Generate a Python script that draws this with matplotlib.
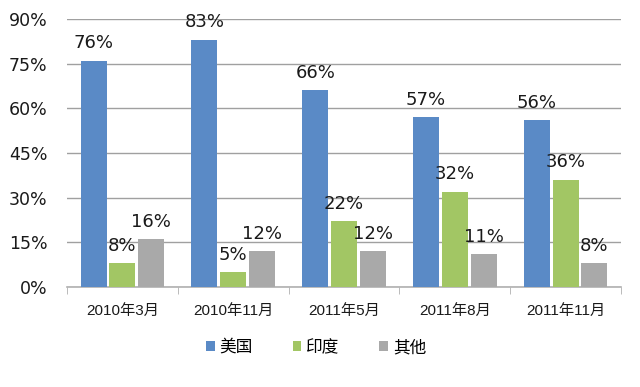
import numpy as np
import matplotlib
matplotlib.use("Agg")
import matplotlib.pyplot as plt
import matplotlib.ticker as mticker

plt.rcParams["font.family"] = ["DejaVu Sans", "Noto Sans CJK SC"]

# data
periods = ["2010年3月", "2010年11月", "2011年5月", "2011年8月", "2011年11月"]
series_names = ["美国", "印度", "其他"]
usa = [76, 83, 66, 57, 56]
india = [8, 5, 22, 32, 36]
other = [16, 12, 12, 11, 8]
y_ticks = [0, 15, 30, 45, 60, 75, 90]

colors = ["#5a8ac6", "#a2c664", "#a9a9a9"]
cjk = ["Liberation Sans", "Noto Sans CJK SC"]

fig = plt.figure(figsize=(6.4, 3.87), dpi=100)
ax = fig.add_axes([0.1047, 0.2584, 0.8656, 0.6926])

x = np.arange(len(periods))
offsets = [-0.26, 0.0, 0.26]
width = 0.235

for vals, off, col, name in zip([usa, india, other], offsets, colors, series_names):
    bars = ax.bar(x + off, vals, width, color=col, label=name, zorder=3)
    for b, v in zip(bars, vals):
        ax.annotate(f"{v}%", (b.get_x() + b.get_width() / 2, v),
                    xytext=(0, 6), textcoords="offset points",
                    ha="center", va="bottom", fontsize=13, color="#1a1a1a", zorder=4)

ax.set_ylim(0, 90)
ax.set_xlim(-0.5, len(periods) - 0.5)
ax.set_yticks(y_ticks)
ax.yaxis.set_major_formatter(mticker.FuncFormatter(lambda v, p: f"{v:.0f}%"))
ax.tick_params(axis="y", length=0, pad=14, labelsize=12.5, labelcolor="#1a1a1a")
ax.grid(True, axis="y", color="#a0a0a0", linewidth=1.0, zorder=0)

ax.set_xticks(x)
ax.set_xticklabels(periods, fontfamily=cjk, fontsize=11, color="#1a1a1a")
ax.set_xticks(np.arange(-0.5, len(periods)), minor=True)
ax.tick_params(axis="x", which="major", length=0, pad=12)
ax.tick_params(axis="x", which="minor", length=5, color="#b0b0b0", direction="out")

for s in ["top", "right", "left"]:
    ax.spines[s].set_visible(False)
ax.spines["bottom"].set_color("#b0b0b0")
ax.spines["bottom"].set_linewidth(1.2)

fig.legend(loc="center", bbox_to_anchor=(0.494, 0.103), ncol=3, frameon=False,
           prop={"family": cjk, "size": 12}, handlelength=0.5, handleheight=0.5,
           handletextpad=0.3, columnspacing=2.4)

fig.savefig("out.png", dpi=100)
